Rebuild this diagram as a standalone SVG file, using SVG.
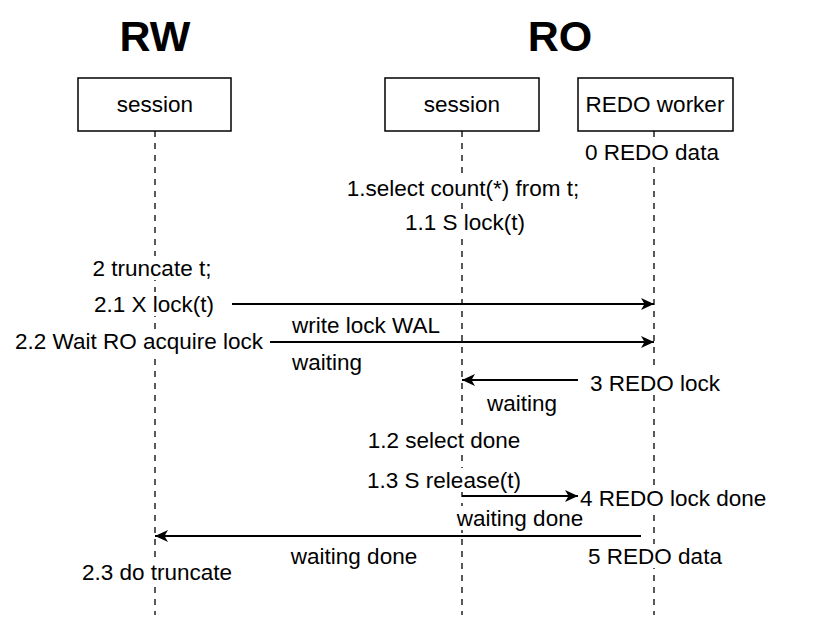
<svg xmlns="http://www.w3.org/2000/svg" width="814" height="627" viewBox="0 0 814 627">
<style>
text{font-family:"Liberation Sans",Arial,sans-serif;font-size:22.5px;fill:#000}
.title{font-size:43px;font-weight:bold}
.box{fill:#fff;stroke:#000;stroke-width:1.5}
.life{stroke:#000;stroke-width:1.3;stroke-dasharray:6 6;fill:none}
.msg{stroke:#000;stroke-width:2;fill:none;marker-end:url(#arr)}
.bg{fill:#fff}
.m{text-anchor:middle}
</style>
<defs>
<marker id="arr" markerUnits="userSpaceOnUse" markerWidth="14" markerHeight="12" refX="13" refY="6" orient="auto">
<path d="M0,0 L13,6 L0,12 L3.5,6 Z" fill="#000"/>
</marker>
</defs>
<rect width="814" height="627" fill="#fff"/>
<text class="title m" x="155" y="51">RW</text>
<text class="title m" x="560" y="51">RO</text>
<g id="rw-session">
<line class="life" x1="155" y1="131" x2="155" y2="615"/>
<rect class="box" x="78" y="78" width="153" height="53"/>
<text class="m" x="155" y="112">session</text>
</g>
<g id="ro-session">
<line class="life" x1="462" y1="131" x2="462" y2="615"/>
<rect class="box" x="385" y="78" width="154" height="53"/>
<text class="m" x="462" y="112">session</text>
</g>
<g id="redo-worker">
<line class="life" x1="654" y1="131" x2="654" y2="615"/>
<rect class="box" x="578" y="78" width="155" height="53"/>
<text class="m" x="655" y="112">REDO worker</text>
</g>
<g id="labels">
<rect class="bg" x="583" y="140" width="138" height="24"/><text class="m" x="652" y="160">0 REDO data</text>
<rect class="bg" x="344" y="176" width="237" height="24"/><text class="m" x="463" y="196">1.select count(*) from t;</text>
<rect class="bg" x="403" y="210" width="124" height="24"/><text class="m" x="465" y="230">1.1 S lock(t)</text>
<rect class="bg" x="90" y="256" width="123" height="24"/><text class="m" x="152" y="276">2 truncate t;</text>
<rect class="bg" x="92" y="292" width="124" height="24"/><text class="m" x="154" y="312">2.1 X lock(t)</text>
<text class="m" x="366" y="333">write lock WAL</text>
<rect class="bg" x="12" y="329" width="253" height="24"/><text class="m" x="139" y="349">2.2 Wait RO acquire lock</text>
<text class="m" x="327" y="370">waiting</text>
<rect class="bg" x="588" y="371" width="134" height="24"/><text class="m" x="655" y="391">3 REDO lock</text>
<text class="m" x="522" y="411">waiting</text>
<rect class="bg" x="366" y="428" width="157" height="24"/><text class="m" x="444" y="448">1.2 select done</text>
<rect class="bg" x="365" y="468" width="158" height="24"/><text class="m" x="444" y="488">1.3 S release(t)</text>
<rect class="bg" x="580" y="486" width="188" height="24"/><text x="580" y="506">4 REDO lock done</text>
<rect class="bg" x="455" y="506" width="130" height="24"/><text class="m" x="520" y="526">waiting done</text>
<text class="m" x="354" y="564">waiting done</text>
<rect class="bg" x="586" y="544" width="138" height="24"/><text class="m" x="655" y="564">5 REDO data</text>
<rect class="bg" x="80" y="560" width="154" height="24"/><text class="m" x="157" y="580">2.3 do truncate</text>
</g>
<g id="connectors">
<line class="msg" x1="232" y1="304" x2="654" y2="304"/>
<line class="msg" x1="270" y1="342" x2="654" y2="342"/>
<line class="msg" x1="578" y1="380" x2="462" y2="380"/>
<line class="msg" x1="462" y1="496" x2="578" y2="496"/>
<line class="msg" x1="641" y1="536" x2="155" y2="536"/>
</g>
</svg>
